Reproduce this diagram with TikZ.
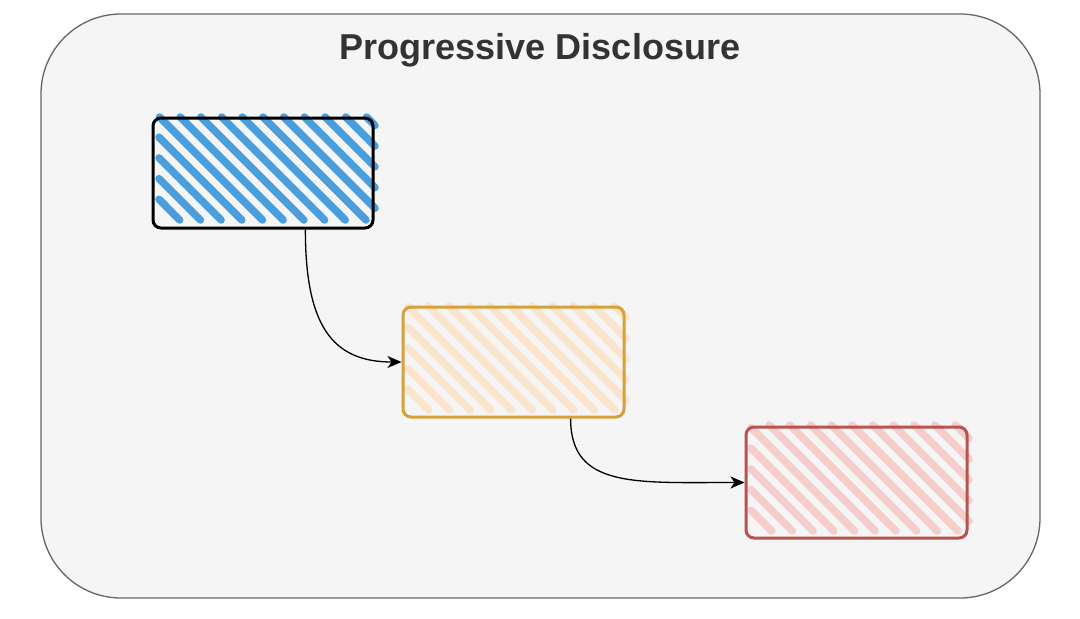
\documentclass[tikz,border=0pt]{standalone}
\usepackage{fontspec}
\setmainfont{Liberation Sans}
\usetikzlibrary{arrows.meta,calc}
\definecolor{bgfill}{HTML}{F5F5F5}
\definecolor{bgline}{HTML}{666666}
\definecolor{titlecol}{HTML}{333333}
\definecolor{bluehatch}{HTML}{4A9EDD}
\definecolor{orangeline}{HTML}{D5A13A}
\definecolor{orangehatch}{HTML}{FBE4CC}
\definecolor{redline}{HTML}{B85450}
\definecolor{redhatch}{HTML}{F5CDCB}
\newcommand\myhatch[5]{% a,p,b,q (image coords), colour
  \pgfmathsetmacro\hcA{#1-#4}
  \pgfmathsetmacro\hcAn{\hcA+20.7}
  \pgfmathsetmacro\hcB{#3-#2}
  \foreach \hc in {\hcA,\hcAn,...,\hcB}{
    \pgfmathsetmacro\hys{max(#2,#1-\hc)}
    \pgfmathsetmacro\hye{min(#4,#3-\hc)}
    \pgfmathsetmacro\hxs{\hys+\hc}
    \pgfmathsetmacro\hxe{\hye+\hc}
    \pgfmathsetmacro\hlen{\hye-\hys}
    \ifdim\hlen pt>1pt
      \draw[hatchline,#5] (\hxs,\hys) -- (\hxe,\hye);
    \fi
  }
}
\tikzset{
  hatchline/.style={line width=7.5pt,line cap=round},
  cardbox/.style={rectangle,inner sep=0pt,minimum width=220pt,minimum height=110pt,rounded corners=8pt,line width=3pt},
  flowarrow/.style={line width=1.3pt,-{Stealth[length=14pt,width=12pt,inset=4pt]}}
}
\begin{document}
\begin{tikzpicture}[x=1pt,y=-1pt]
\useasboundingbox (0,0) rectangle (1080,619);
\fill[white] (0,0) rectangle (1080,619);
\draw[fill=bgfill,draw=bgline,line width=1.3pt,rounded corners=80pt] (41,14) rectangle (1040,598);
\node[anchor=base,text=titlecol,font=\fontsize{36}{40}\selectfont\bfseries] (title) at (540,59) {Progressive Disclosure};
% hatching
\myhatch{159}{117}{375}{220}{bluehatch}
\myhatch{408}{306}{626}{410}{orangehatch}
\myhatch{751}{425}{969}{531}{redhatch}
% boxes
\node[cardbox,draw=black] (b1) at (263,173) {};
\node[cardbox,draw=orangeline,minimum width=221pt] (b2) at (513.5,362) {};
\node[cardbox,draw=redline,minimum width=221pt,minimum height=111pt] (b3) at (856.5,482.5) {};
% connectors
\draw[flowarrow] ($(b1.south west)!0.69!(b1.south east)$) .. controls +(0,95) and +(-70,0) .. (b2.west);
\draw[flowarrow] ($(b2.south west)!0.755!(b2.south east)$) .. controls +(0,70) and +(-110,0) .. (b3.west);
\end{tikzpicture}
\end{document}
